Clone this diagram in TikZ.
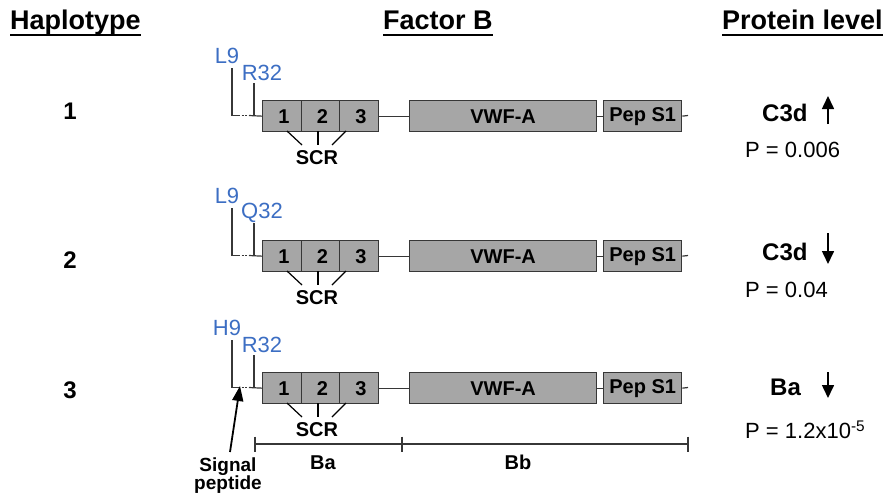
\documentclass[tikz,border=0pt]{standalone}
\usepackage{fontspec}
\setmainfont{Liberation Sans}
\usetikzlibrary{arrows.meta}
\definecolor{boxfill}{RGB}{166,166,166}
\definecolor{edge}{RGB}{55,55,55}
\definecolor{lblue}{RGB}{60,110,195}
\newcommand{\fsz}[1]{\fontsize{#1}{#1}\selectfont}
\begin{document}
\begin{tikzpicture}[x=1pt,y=-1pt,
  dom/.style={draw=edge, fill=boxfill, line width=1.3pt, minimum height=31pt, inner sep=0pt, anchor=north west, font=\bfseries\fsz{20}},
  ln/.style={draw=edge, line width=1.2pt},
  hdr/.style={font=\bfseries\fsz{27}, inner sep=0pt, anchor=base west},
  blue/.style={text=lblue, font=\fsz{22}, inner sep=0pt},
  rowlab/.style={font=\bfseries\fsz{24}, inner sep=0pt},
  prot/.style={font=\bfseries\fsz{24}, inner sep=0pt, anchor=west},
  pval/.style={font=\fsz{22}, inner sep=0pt, anchor=west},
  btxt/.style={font=\bfseries\fsz{20}, inner sep=0pt},
  vArrow/.style={draw=black, line width=1.6pt, -{Triangle[length=13pt,width=12pt]}},
  sigArrow/.style={draw=black, line width=1.8pt, -{Triangle[length=15pt,width=11pt]}}
]
\useasboundingbox (0,0) rectangle (894,498);

% headers
\node[hdr] (hap) at (10,29) {Haplotype};
\node[hdr] (fac) at (383,29) {Factor B};
\node[hdr] (pro) at (722,29) {Protein level};
\foreach \h in {hap,fac,pro}
  \draw[line width=1.5pt] ([yshift=-6pt]\h.base west) -- ([yshift=-6pt]\h.base east);

% rows
\foreach \r/\T/\ly/\aa/\bb in {1/100/111/L9/R32, 2/240/260/L9/Q32, 3/372/390/H9/R32} {
  \pgfmathsetmacro{\M}{\T+15.5}
  \node[rowlab] (row\r) at (70,\ly) {\r};
  \node[dom, minimum width=39pt] (s1\r) at (262,\T) {\,1};
  \node[dom, minimum width=38pt] (s2\r) at (301,\T) {\,2};
  \node[dom, minimum width=39pt] (s3\r) at (339,\T) {\,3};
  \node[dom, minimum width=187pt] (vwf\r) at (409,\T) {VWF-A};
  \node[dom, minimum width=78pt] (pep\r) at (603,\T) {Pep S1};
  \coordinate (end\r) at (688,\M);
  \draw[ln] (s3\r.east) -- (vwf\r.west);
  \draw[ln] (vwf\r.east) -- (pep\r.west);
  \draw[ln] (pep\r.east) -- (end\r);
  % variant labels and signal region
  \node[blue] (va\r) at (227,\T-44) {\aa};
  \node[blue] (vb\r) at (262,\T-27) {\bb};
  \coordinate (lt\r) at (232,\T-32);
  \coordinate (lb\r) at (232,\M);
  \coordinate (rt\r) at (254,\T-17);
  \coordinate (rb\r) at (254,\M);
  \coordinate (da\r) at (238,\M);
  \coordinate (db\r) at (249,\M);
  \draw[ln] (lt\r) -- (lb\r) -- (da\r);
  \draw[ln, dash pattern=on 2pt off 1.5pt] (da\r) -- (db\r);
  \draw[ln] (db\r) -- (s1\r.west);
  \draw[ln] (rt\r) -- (rb\r);
  % SCR
  \node[btxt] (scr\r) at (317,\T+58) {SCR};
  \coordinate (c1\r) at (287,\T+31);
  \coordinate (c2\r) at (318,\T+31);
  \coordinate (c3\r) at (346,\T+31);
  \coordinate (e1\r) at (302,\T+45);
  \coordinate (e2\r) at (318,\T+45);
  \coordinate (e3\r) at (332,\T+45);
  \draw[ln, draw=black] (c1\r) -- (e1\r);
  \draw[ln, draw=black] (c2\r) -- (e2\r);
  \draw[ln, draw=black] (c3\r) -- (e3\r);
}

% protein levels
\node[prot] (p1) at (762,113) {C3d};
\coordinate (a1s) at (828,124);
\coordinate (a1e) at (828,96);
\draw[vArrow] (a1s) -- (a1e);
\node[pval] (v1) at (745,150) {P = 0.006};

\node[prot] (p2) at (762,252) {C3d};
\coordinate (a2s) at (828,233);
\coordinate (a2e) at (828,264);
\draw[vArrow] (a2s) -- (a2e);
\node[pval] (v2) at (745,290) {P = 0.04};

\node[prot] (p3) at (770,387) {Ba};
\coordinate (a3s) at (828,372);
\coordinate (a3e) at (828,398);
\draw[vArrow] (a3s) -- (a3e);
\node[pval] (v3) at (745,430) {P = 1.2x10\textsuperscript{-5}};

% signal peptide
\node[btxt, font=\bfseries\fsz{19}, align=center] (sig) at (228,476) {Signal\\[-1pt]peptide};
\coordinate (sigtail) at (230,452);
\coordinate (sigtip) at (240,386);
\draw[sigArrow] (sigtail) -- (sigtip);

% Ba / Bb scale
\coordinate (k0) at (255,444);
\coordinate (k1) at (402,444);
\coordinate (k2) at (688,444);
\draw[ln] (k0) -- (k2);
\foreach \k in {k0,k1,k2}
  \draw[ln] ([yshift=7.5pt]\k) -- ([yshift=-7.5pt]\k);
\node[btxt] (ba) at (323,463) {Ba};
\node[btxt] (bb) at (518,462) {Bb};
\end{tikzpicture}
\end{document}
